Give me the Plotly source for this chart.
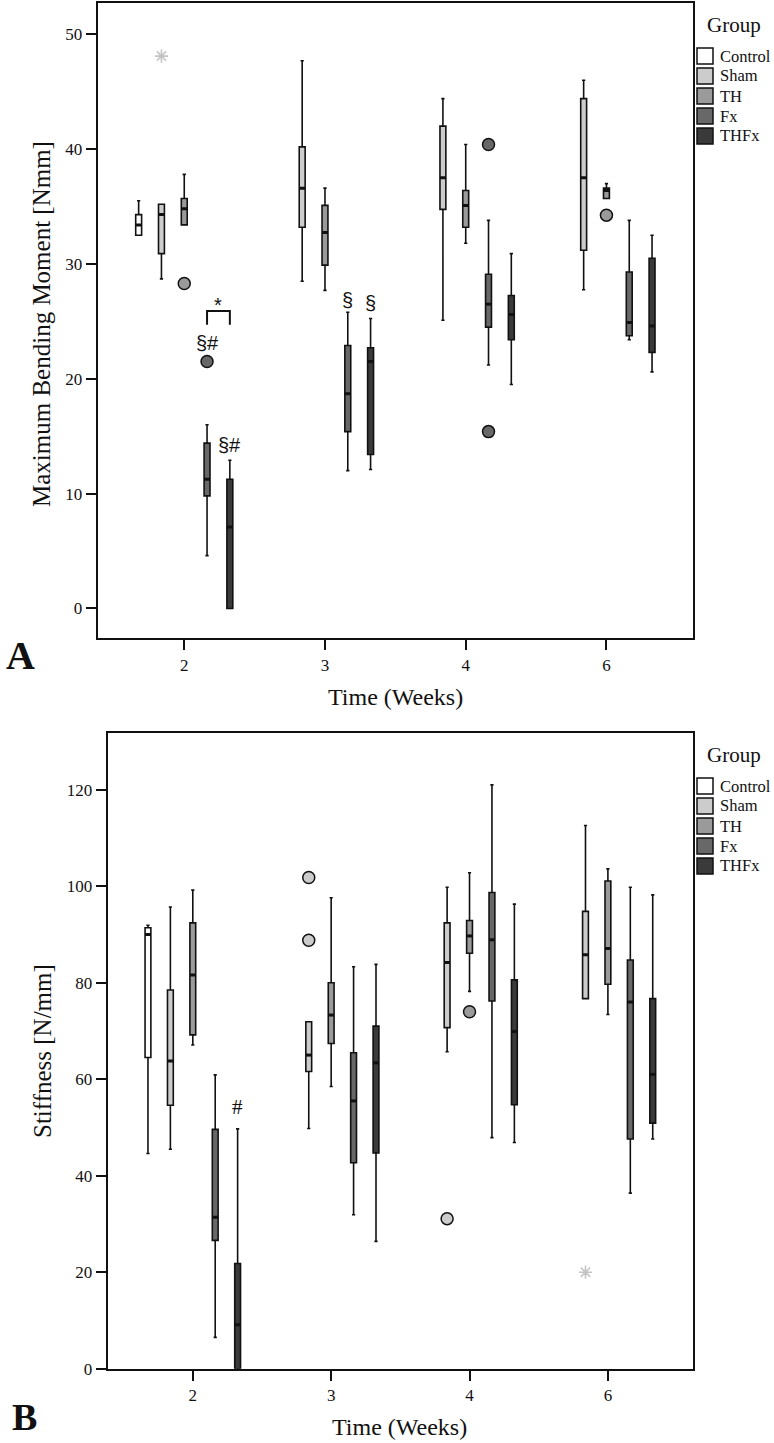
import plotly.graph_objects as go

# ---------------- data ----------------
weeks = ['2', '3', '4', '6']
groups = ['Control', 'Sham', 'TH', 'Fx', 'THFx']
group_colors = {'Control': '#ffffff', 'Sham': '#cccccc', 'TH': '#9a9a9a',
                'Fx': '#686868', 'THFx': '#3a3a3a'}

# Panel A: Maximum Bending Moment [Nmm] (per group, values for weeks 2,3,4,6)
bm_lower = {'Control': [32.5, None, None, None], 'Sham': [28.7, 28.5, 25.1, 27.75],
            'TH': [33.4, 27.7, 31.8, 35.7], 'Fx': [4.6, 12.0, 21.2, 23.4],
            'THFx': [0.0, 12.1, 19.5, 20.6]}
bm_q1 = {'Control': [32.5, None, None, None], 'Sham': [30.9, 33.2, 34.75, 31.2],
         'TH': [33.4, 29.9, 33.2, 35.7], 'Fx': [9.8, 15.4, 24.5, 23.75],
         'THFx': [0.0, 13.4, 23.4, 22.3]}
bm_median = {'Control': [33.4, None, None, None], 'Sham': [34.3, 36.6, 37.5, 37.5],
             'TH': [34.8, 32.75, 35.1, 36.4], 'Fx': [11.25, 18.7, 26.5, 24.9],
             'THFx': [7.1, 21.5, 25.6, 24.6]}
bm_q3 = {'Control': [34.3, None, None, None], 'Sham': [35.2, 40.2, 42.0, 44.4],
         'TH': [35.7, 35.1, 36.4, 36.6], 'Fx': [14.4, 22.9, 29.1, 29.3],
         'THFx': [11.25, 22.7, 27.25, 30.5]}
bm_upper = {'Control': [35.5, None, None, None], 'Sham': [35.2, 47.7, 44.4, 46.0],
            'TH': [37.8, 36.6, 40.4, 37.0], 'Fx': [16.0, 25.8, 33.8, 33.8],
            'THFx': [12.9, 25.25, 30.9, 32.5]}
bm_out_group = ['Sham', 'TH', 'Fx', 'Fx', 'Fx', 'TH']
bm_out_week = ['2', '2', '2', '4', '4', '6']
bm_out_value = [48.1, 28.3, 21.5, 40.4, 15.4, 34.25]
bm_out_kind = ['extreme', 'outlier', 'outlier', 'outlier', 'outlier', 'outlier']
bm_sig_text = ['§#', '§#', '§', '§']
bm_sig_group = ['Fx', 'THFx', 'Fx', 'THFx']
bm_sig_week = ['2', '2', '3', '3']
bm_sig_value = [23.1, 14.2, 26.9, 26.6]
bm_bracket_groups = ['Fx', 'THFx']
bm_bracket_week = '2'
bm_bracket_top = 25.9
bm_bracket_bottom = 24.7
bm_bracket_label = '*'
bm_bracket_label_value = 26.4

# Panel B: Stiffness [N/mm]
st_lower = {'Control': [44.6, None, None, None], 'Sham': [45.5, 49.8, 65.7, 76.7],
            'TH': [67.1, 58.5, 78.2, 73.4], 'Fx': [6.5, 31.9, 47.9, 36.4],
            'THFx': [0.0, 26.4, 46.9, 47.6]}
st_q1 = {'Control': [64.5, None, None, None], 'Sham': [54.6, 61.6, 70.7, 76.7],
         'TH': [69.2, 67.4, 86.1, 79.7], 'Fx': [26.6, 42.7, 76.2, 47.6],
         'THFx': [0.0, 44.7, 54.7, 50.9]}
st_median = {'Control': [90.0, None, None, None], 'Sham': [63.8, 65.0, 84.2, 85.8],
             'TH': [81.6, 73.3, 89.7, 87.1], 'Fx': [31.4, 55.5, 88.9, 76.0],
             'THFx': [9.1, 63.4, 69.9, 61.0]}
st_q3 = {'Control': [91.4, None, None, None], 'Sham': [78.5, 71.9, 92.4, 94.8],
         'TH': [92.4, 80.0, 92.9, 101.1], 'Fx': [49.6, 65.5, 98.7, 84.7],
         'THFx': [21.8, 71.0, 80.6, 76.7]}
st_upper = {'Control': [91.9, None, None, None], 'Sham': [95.7, 71.9, 99.8, 112.6],
            'TH': [99.2, 97.6, 102.8, 103.6], 'Fx': [60.9, 83.3, 121.0, 99.8],
            'THFx': [49.7, 83.8, 96.3, 98.2]}
st_out_group = ['Sham', 'Sham', 'Sham', 'TH', 'Sham']
st_out_week = ['3', '3', '4', '4', '6']
st_out_value = [101.8, 88.8, 31.1, 74.0, 20.0]
st_out_kind = ['outlier', 'outlier', 'outlier', 'outlier', 'extreme']
st_sig_text = ['#']
st_sig_group = ['THFx']
st_sig_week = ['2']
st_sig_value = [54.2]

# ---------------- layout helpers ----------------
W, H = 774, 1443
SLOT = 0.162       # horizontal offset between groups inside a week (category units)
BOXW = 0.042       # box width (category units)
SERIF = 'Liberation Serif'
SANS = 'Liberation Sans'
INK = '#111111'


def px_x(p):
    return p / W


def px_y(p):
    return 1 - p / H


def xpos(group, week):
    return weeks.index(week) + (groups.index(group) - 2) * SLOT


fig = go.Figure()


def add_panel(xa, ya, lower, q1, med, q3, upper, og, ow, ov, ok, st, sg, sw, sv):
    mx, my = [], []
    for g in groups:
        xs, lo, a, m, b, hi = [], [], [], [], [], []
        for wi, w in enumerate(weeks):
            if med[g][wi] is None:
                continue
            xs.append(xpos(g, w))
            lo.append(lower[g][wi]); a.append(q1[g][wi]); m.append(med[g][wi])
            b.append(q3[g][wi]); hi.append(upper[g][wi])
            mx += [xpos(g, w) - BOXW / 2, xpos(g, w) + BOXW / 2, None]
            my += [med[g][wi], med[g][wi], None]
        fig.add_trace(go.Box(
            x=xs, q1=a, median=m, q3=b, lowerfence=lo, upperfence=hi,
            orientation='v', width=BOXW, whiskerwidth=0.55,
            fillcolor=group_colors[g], line=dict(color=INK, width=1.6),
            boxpoints=False, name=g, showlegend=False, hoverinfo='skip',
            xaxis=xa, yaxis=ya))
    # thick median bars
    fig.add_trace(go.Scatter(x=mx, y=my, mode='lines', line=dict(color=INK, width=3),
                             showlegend=False, hoverinfo='skip', xaxis=xa, yaxis=ya))
    # outliers
    for kind in ['outlier', 'extreme']:
        for g in groups:
            xs = [xpos(gg, ww) for gg, ww, kk in zip(og, ow, ok) if gg == g and kk == kind]
            ys = [vv for gg, vv, kk in zip(og, ov, ok) if gg == g and kk == kind]
            if not xs:
                continue
            if kind == 'outlier':
                marker = dict(symbol='circle', size=12, color=group_colors[g],
                              line=dict(color=INK, width=1.5))
            else:
                marker = dict(symbol='asterisk-open', size=11, color='#c4c4c4',
                              line=dict(color='#c4c4c4', width=1.6))
            fig.add_trace(go.Scatter(x=xs, y=ys, mode='markers', marker=marker,
                                     showlegend=False, hoverinfo='skip',
                                     xaxis=xa, yaxis=ya))
    # significance labels
    for t, g, w, v in zip(st, sg, sw, sv):
        fig.add_annotation(x=xpos(g, w), y=v, xref=xa, yref=ya, text=t,
                           showarrow=False, yanchor='middle',
                           font=dict(family=SANS if t != '#' else SERIF,
                                     size=20 if t != '#' else 21, color=INK))


add_panel('x', 'y', bm_lower, bm_q1, bm_median, bm_q3, bm_upper,
          bm_out_group, bm_out_week, bm_out_value, bm_out_kind,
          bm_sig_text, bm_sig_group, bm_sig_week, bm_sig_value)
add_panel('x2', 'y2', st_lower, st_q1, st_median, st_q3, st_upper,
          st_out_group, st_out_week, st_out_value, st_out_kind,
          st_sig_text, st_sig_group, st_sig_week, st_sig_value)

# bracket with * between Fx and THFx at week 2
bx0 = xpos(bm_bracket_groups[0], bm_bracket_week)
bx1 = xpos(bm_bracket_groups[1], bm_bracket_week)
fig.add_trace(go.Scatter(x=[bx0, bx0, bx1, bx1],
                         y=[bm_bracket_bottom, bm_bracket_top, bm_bracket_top, bm_bracket_bottom],
                         mode='lines', line=dict(color=INK, width=2),
                         showlegend=False, hoverinfo='skip', xaxis='x', yaxis='y'))
fig.add_annotation(x=(bx0 + bx1) / 2, y=bm_bracket_label_value, xref='x', yref='y',
                   text=bm_bracket_label, showarrow=False, yanchor='middle',
                   font=dict(family=SANS, size=20, color=INK))

# ---------------- axes ----------------
axis_common = dict(showline=True, linewidth=2, linecolor=INK, mirror=True,
                   ticks='outside', ticklen=10, tickwidth=2, tickcolor=INK,
                   showgrid=False, zeroline=False,
                   tickfont=dict(family=SERIF, size=17, color=INK))
XR = [-0.615, 3.615]
fig.update_layout(
    xaxis=dict(domain=[px_x(97.7), px_x(693)], anchor='y', range=XR,
               tickvals=list(range(len(weeks))), ticktext=weeks, **axis_common),
    yaxis=dict(domain=[px_y(638.3), px_y(3.3)], anchor='x', range=[-2.6, 52.7],
               tickvals=[0, 10, 20, 30, 40, 50], **axis_common),
    xaxis2=dict(domain=[px_x(107.7), px_x(693)], anchor='y2', range=XR,
                tickvals=list(range(len(weeks))), ticktext=weeks, **axis_common),
    yaxis2=dict(domain=[px_y(1368.7), px_y(733.3)], anchor='x2', range=[0, 131.7],
                tickvals=[0, 20, 40, 60, 80, 100, 120], **axis_common),
)

# ---------------- titles, panel letters ----------------
def text_px(x, y, t, size, family=SERIF, angle=0, bold=False, xanchor='center'):
    fig.add_annotation(x=px_x(x), y=px_y(y), xref='paper', yref='paper',
                       text=('<b>%s</b>' % t) if bold else t, showarrow=False,
                       textangle=angle, xanchor=xanchor, yanchor='middle',
                       font=dict(family=family, size=size, color=INK))


text_px(395, 697, 'Time (Weeks)', 24)
text_px(400, 1427, 'Time (Weeks)', 24)
text_px(41, 324, 'Maximum Bending Moment [Nmm]', 25, angle=-90)
text_px(42, 1051, 'Stiffness [N/mm]', 25, angle=-90)
text_px(20, 655, 'A', 40, bold=True)
text_px(25, 1417, 'B', 38, bold=True)

# ---------------- legends (Group) ----------------
def draw_legend(title_y, first_row_y):
    text_px(734, title_y, 'Group', 21)
    for k, g in enumerate(groups):
        cy = first_row_y + 20 * k
        fig.add_shape(type='rect', xref='paper', yref='paper',
                      x0=px_x(697), x1=px_x(713), y0=px_y(cy + 8), y1=px_y(cy - 8),
                      fillcolor=group_colors[g], line=dict(color=INK, width=1.5))
        text_px(718, cy, g, 16.5, xanchor='left')


draw_legend(25, 56)
draw_legend(755, 786)

fig.update_layout(width=W, height=H, margin=dict(l=0, r=0, t=0, b=0, autoexpand=False),
                  paper_bgcolor='white', plot_bgcolor='white', showlegend=False,
                  boxmode='overlay')

fig.write_html('out.html',
               config={'displayModeBar': False, 'staticPlot': True},
               post_script="document.body.style.margin='0px';"
                           "document.body.style.padding='0px';"
                           "document.body.style.overflow='hidden';")
